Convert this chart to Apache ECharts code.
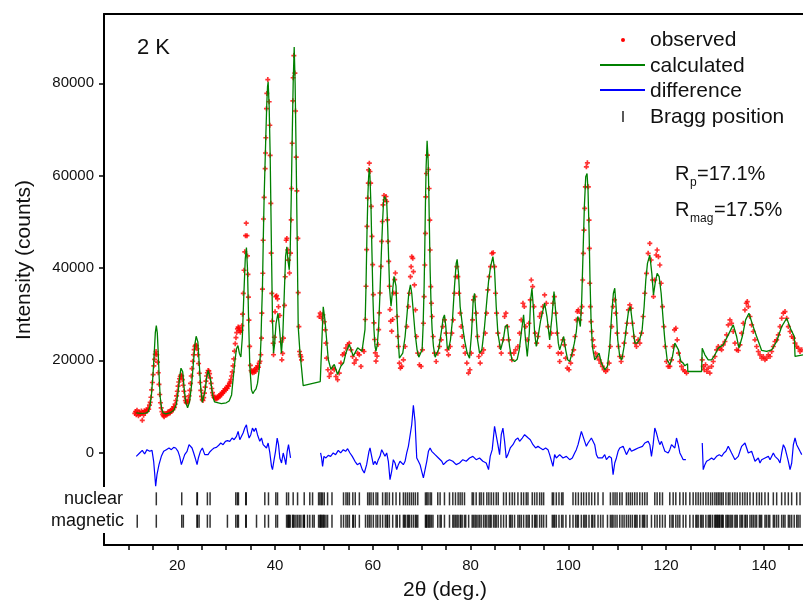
<!DOCTYPE html>
<html><head><meta charset="utf-8">
<script src="https://cdn.jsdelivr.net/npm/echarts@6/dist/echarts.min.js"></script>
<style>html,body{margin:0;padding:0;background:#fff}#c{width:803px;height:601px}</style>
</head><body><div id="c"></div>
<script>
// ---------- DATA (2theta in degrees, intensity in counts) ----------
const obsA = [[11.3,8500],[11.45,8900],[11.6,8200],[11.75,9200],[11.9,8600],[12.05,8000],[12.2,8800],[12.35,8300],[12.5,8400],[12.65,9000],[12.83,7000],[12.95,8700],[13.1,8100],[13.25,9100],[13.4,8600],[13.55,8900],[13.7,9300],[13.85,9000],[14.0,9600],[14.15,9400],[14.3,10300],[14.45,10900],[14.6,12000],[14.75,13600],[14.9,15200],[15.05,16900],[15.2,18800],[15.35,20200],[15.5,21300],[15.65,21900],[15.8,21200],[15.95,19600],[16.1,17300],[16.25,14800],[16.4,12600],[16.55,10800],[16.7,9700],[16.85,8900],[17.0,8300],[17.15,8000],[17.3,7800],[17.45,8400],[17.6,8100],[17.75,8500],[17.9,8200],[18.05,8800],[18.2,8400],[18.35,8900],[18.5,8600],[18.65,9200],[18.8,8900],[18.95,9500],[19.1,9300],[19.25,9900],[19.4,9800],[19.55,10500],[19.7,11300],[19.85,12300],[20.0,13300],[20.15,14400],[20.3,15300],[20.45,16000],[20.6,16500],[20.75,16800],[20.9,16600],[21.05,15800],[21.2,14600],[21.35,13300],[21.5,12100],[21.65,11300],[21.8,10900],[21.95,10700],[22.1,11000],[22.25,11500],[22.4,12300],[22.55,13500],[22.7,15000],[22.85,16600],[23.0,18200],[23.15,19800],[23.3,21200],[23.45,22300],[23.6,23000],[23.75,23300],[23.9,23200],[24.05,22500],[24.2,21200],[24.35,19300],[24.5,17200],[24.65,15200],[24.8,13500],[24.95,12200],[25.1,11500],[25.25,11300],[25.4,11900],[25.55,12900],[25.7,14200],[25.85,15500],[26.0,16600],[26.15,17300],[26.3,17800],[26.45,17700],[26.6,17100],[26.75,16200],[26.9,15000],[27.05,13900],[27.2,13000],[27.35,12400],[27.5,12000],[27.65,11800],[27.8,11600],[27.95,11900],[28.1,11700],[28.25,12100],[28.4,11900],[28.55,12400],[28.7,12200],[28.85,12700],[29.0,12500],[29.15,13000],[29.3,12900],[29.45,13400],[29.6,13200],[29.75,13800],[29.9,13600],[30.05,14100],[30.2,13900],[30.35,14500],[30.5,14400],[30.65,15000],[30.8,15300],[30.95,15800],[31.1,16600],[31.25,17500],[31.4,18800],[31.55,20300],[31.7,22000],[31.85,23600],[32.0,24900],[32.15,26000],[32.3,26800],[32.45,27200],[32.6,27000],[32.75,26400],[32.9,26100],[33.05,26500],[33.2,27500],[33.35,30000],[33.5,34500],[33.65,39500],[33.8,43500],[33.95,47000],[34.1,49700],[34.25,47000],[34.35,42600],[34.45,38600],[34.55,33700],[34.65,28700],[34.8,23000],[34.95,18900],[35.1,17800],[35.25,17500],[35.4,17300],[35.55,17800],[35.7,17400],[35.85,18000],[36.0,17600],[36.15,18400],[36.3,18100],[36.45,18800],[36.6,18500],[36.75,19400],[36.9,19800],[37.08,21200],[37.22,24800],[37.29,30200],[37.42,35400],[37.49,38850],[37.56,46000],[37.63,50600],[37.76,55300],[37.97,61500],[38.04,64900],[38.11,68200],[38.24,74500],[38.31,77800],[38.51,80800],[38.79,76000],[38.92,70900],[38.99,64400],[39.13,54000],[39.2,43200],[39.33,34500],[39.4,28500],[39.61,23700],[39.68,21200],[39.85,25000],[40.0,30500],[40.15,33800],[40.3,34000],[40.5,33300],[40.7,31600],[40.97,29700],[41.25,24000],[41.38,20100],[41.55,21500],[41.72,24800],[41.93,31900],[42.07,38100],[42.27,46000],[42.41,46400],[42.61,43900],[42.75,41700],[42.95,38900],[43.16,43200],[43.3,50400],[43.36,57200],[43.5,67000],[43.64,76200],[43.7,81200],[43.84,86000],[44.05,82200],[44.18,74000],[44.32,64000],[44.46,56700],[44.66,46400],[44.73,34650],[44.87,27300],[45.0,21900],[45.15,21200],[45.28,20800],[45.41,20100]];
const obsB = [[49.03,29470],[49.24,30200],[49.51,29100],[49.78,29830],[50.06,28350],[50.26,26600],[50.4,23710],[50.54,20470],[50.81,17950],[51.08,16500],[51.42,17230],[51.77,18310],[52.11,17950],[52.45,16500],[52.79,15780],[53.13,17230],[53.47,19390],[53.81,21190],[54.16,21550],[54.5,22630],[54.84,23350],[55.18,23710],[55.52,22270],[55.86,20830],[56.2,19390],[56.55,20110],[56.89,21550],[57.23,21190],[57.57,18670],[57.91,22270],[58.19,21900],[58.46,28830],[58.6,36040],[58.73,43960],[58.8,49000],[58.94,55130],[59.07,58370],[59.14,61250],[59.28,62690],[59.41,60890],[59.55,58370],[59.69,53330],[59.82,46840],[59.96,40720],[60.1,34230],[60.23,28110],[60.37,24500],[60.51,21620],[60.64,19820],[60.85,20900],[61.05,23420],[61.19,26660],[61.33,30260],[61.46,34580],[61.67,40340],[61.8,45750],[61.94,50070],[62.08,53670],[62.28,55690],[62.49,54750],[62.69,55470],[62.83,54390],[62.97,50430],[63.1,45750],[63.24,41420],[63.38,36040],[63.51,30990],[63.65,28470],[63.85,26310],[64.06,28830],[64.26,34580],[64.47,37460],[64.61,38900],[64.75,34520],[64.96,29480],[65.09,25150],[65.23,22990],[65.43,19390],[65.64,18310],[65.91,18670],[66.25,20110],[66.6,22990],[66.94,27310],[67.28,31640],[67.48,34520],[67.69,38120],[67.83,40280],[67.96,42440],[68.17,42080],[68.3,39200],[68.51,36320],[68.71,30920],[68.92,25150],[69.19,21550],[69.53,19030],[69.87,18670],[70.15,22270],[70.35,28030],[70.49,33800],[70.63,40640],[70.76,47490],[70.83,55410],[70.97,60450],[71.17,64420],[71.38,61320],[71.51,57210],[71.65,50370],[71.72,43880],[71.85,35960],[71.99,32360],[72.13,29480],[72.33,25150],[72.61,21550],[72.95,19750],[73.29,21550],[73.63,22990],[73.97,24430],[74.31,27310],[74.65,28750],[74.98,25870],[75.2,22270],[75.47,21190],[75.82,22990],[76.16,25870],[76.43,28750],[76.7,34520],[76.98,38120],[77.18,40280],[77.39,38120],[77.59,34520],[77.86,30200],[78.07,27310],[78.27,25150],[78.55,22990],[78.89,21550],[79.23,19390],[79.57,17230],[79.85,17950],[80.12,21550],[80.39,28750],[80.6,33080],[80.87,33800],[81.14,30200],[81.42,25150],[81.69,20830],[81.96,19390],[82.3,21550],[82.65,22270],[82.99,25870],[83.26,30200],[83.53,35240],[83.81,38120],[84.08,40280],[84.35,43160],[84.63,43300],[84.9,40280],[85.1,34520],[85.31,30200],[85.58,25870],[85.92,22990],[86.27,21550],[86.61,24430],[86.95,29480],[87.22,30200],[87.5,27310],[87.77,24430],[88.11,21550],[88.45,20110],[88.86,21550],[89.2,22270],[89.68,22990],[90.02,25870],[90.36,28750],[90.71,32360],[90.98,31640],[91.25,27310],[91.59,24430],[91.93,28030],[92.21,33080],[92.41,37400],[92.69,35960],[92.96,31640],[93.23,25870],[93.51,23710],[93.78,25150]];
const obsC = [[94.12,29480],[94.46,30200],[94.8,31640],[95.14,34160],[95.49,32360],[95.83,27310],[96.17,22990],[96.51,25870],[96.85,32360],[97.13,33800],[97.4,30200],[97.67,25870],[97.94,21550],[98.22,19750],[98.56,21550],[98.9,24430],[99.17,23350],[99.45,20470],[99.79,18310],[100.13,17950],[100.47,19390],[100.81,21190],[101.09,22270],[101.36,25150],[101.63,28750],[101.84,30560],[102.04,30920],[102.32,28750],[102.59,30200],[102.79,31640],[102.93,37400],[103.07,43160],[103.2,48210],[103.34,52890],[103.48,57570],[103.68,61900],[103.89,62760],[104.09,57570],[104.23,50370],[104.3,44240],[104.37,36680],[104.5,31640],[104.64,28390],[104.77,26230],[105.05,24430],[105.25,22990],[105.53,21550],[105.87,20830],[106.28,20110],[106.62,19390],[106.96,18670],[107.3,17950],[107.64,17590],[107.99,17950],[108.33,19390],[108.6,22990],[108.87,27310],[109.15,31640],[109.42,33080],[109.69,30200],[109.97,25870],[110.24,22990],[110.51,20830],[110.79,19750],[111.06,20830],[111.4,23710],[111.74,25870],[112.01,28030],[112.29,30920],[112.56,32000],[112.83,31280],[113.11,28030],[113.38,25150],[113.65,23710],[113.93,22990],[114.27,24430],[114.61,23710],[114.95,25870],[115.29,29480],[115.63,34520],[115.98,38840],[116.32,43160],[116.66,45320],[116.93,41720],[117.21,37400],[117.41,33800],[117.68,37400],[117.96,42800],[118.16,43880],[118.43,42440],[118.71,40640],[118.98,36680],[119.25,31640],[119.53,27310],[119.8,22990],[120.07,19750],[120.42,18670],[120.76,18670],[121.1,20110],[121.44,22990],[121.71,26590],[121.99,26950],[122.26,24430],[122.53,21550],[122.81,19750],[123.15,18670],[123.49,17950],[123.83,17590],[124.17,17230]];
const obsD = [[127.38,20110],[127.59,18670],[127.79,17950],[128.06,19030],[128.34,17580],[128.61,18310],[128.95,17230],[129.29,18670],[129.64,19750],[129.98,20830],[130.32,22270],[130.66,22990],[131.0,22630],[131.34,22270],[131.68,23350],[132.03,24070],[132.37,25510],[132.71,27670],[133.05,28750],[133.39,28030],[133.73,26230],[134.08,23710],[134.42,22270],[134.76,22130],[135.1,23350],[135.44,25870],[135.78,28030],[136.12,30920],[136.4,32360],[136.6,32720],[136.81,31640],[137.15,29480],[137.49,27670],[137.83,26230],[138.17,24430],[138.51,22990],[138.86,21910],[139.2,21190],[139.54,20470],[139.88,20830],[140.22,20110],[140.56,20470],[140.91,21190],[141.25,20830],[141.59,21910],[141.93,22990],[142.27,24070],[142.61,24430],[142.95,25510],[143.3,27310],[143.64,29110],[143.98,30200],[144.32,30560],[144.66,29110],[145.0,27310],[145.35,26230],[145.69,25150],[146.03,24790],[146.37,23710],[146.71,22990],[147.05,22630],[147.39,21910],[147.74,22270]];

const calculated = [[11.6,8600],[12.5,8500],[13.5,8550],[14.0,8800],[14.4,10000],[14.7,12500],[15.0,16500],[15.3,22000],[15.5,26000],[15.7,27500],[15.9,26000],[16.1,21500],[16.3,16000],[16.5,12000],[16.8,9500],[17.1,8600],[17.6,8400],[18.5,8600],[19.3,9200],[19.8,10500],[20.2,13500],[20.5,16500],[20.75,18300],[20.9,18500],[21.1,17500],[21.4,14000],[21.7,11000],[22.1,9700],[22.5,11000],[22.9,14500],[23.3,19500],[23.6,23500],[23.85,25200],[24.0,25400],[24.2,24000],[24.5,19000],[24.8,14000],[25.1,10900],[25.4,11300],[25.7,13500],[26.0,16300],[26.3,17800],[26.5,17600],[26.8,15800],[27.2,12500],[27.6,11000],[28.0,10700],[29.0,10600],[30.0,10800],[30.6,11200],[31.1,12500],[31.4,15800],[31.8,20000],[32.1,22500],[32.4,23200],[32.7,21500],[33.0,20700],[33.3,25000],[33.6,34000],[33.9,42000],[34.14,44400],[34.35,40000],[34.6,28000],[34.83,18700],[35.17,13600],[35.45,12800],[35.71,13250],[36.1,13800],[36.4,15000],[36.7,17500],[36.95,20500],[37.1,24000],[37.25,30000],[37.42,36000],[37.6,47000],[37.76,55300],[38.1,68300],[38.3,75500],[38.45,79200],[38.58,80300],[38.79,74900],[38.99,64800],[39.13,54000],[39.27,43200],[39.47,28800],[39.68,21550],[39.9,23500],[40.2,28000],[40.6,30200],[40.9,27000],[41.3,21550],[41.6,26000],[41.9,35000],[42.15,42500],[42.4,44600],[42.65,41500],[42.9,39600],[43.1,44000],[43.3,55000],[43.5,68000],[43.7,80000],[43.91,87850],[44.1,80000],[44.3,65000],[44.5,48000],[44.73,27300],[45.1,21550],[45.41,18300],[45.6,17900],[45.75,14500],[49.24,15400],[49.85,31600],[50.19,28830],[50.54,24500],[50.88,20180],[51.42,18020],[52.11,19100],[52.79,16940],[53.47,18740],[54.02,19460],[54.5,21620],[55.18,23420],[56.0,20900],[56.89,22700],[57.78,21980],[58.12,22340],[58.39,26660],[58.6,36040],[58.8,47570],[59.0,56220],[59.14,59820],[59.28,61620],[59.41,59820],[59.62,53330],[59.82,43240],[60.03,33150],[60.23,26660],[60.44,23060],[60.64,21980],[60.92,23420],[61.19,27380],[61.46,34580],[61.74,43240],[62.01,50450],[62.21,54780],[62.42,55500],[62.62,55140],[62.83,54420],[63.03,49010],[63.24,41810],[63.44,35320],[63.72,31720],[64.06,35320],[64.33,38200],[64.54,38560],[64.74,36040],[64.96,29480],[65.23,23710],[65.43,20470],[65.78,20470],[66.12,21550],[66.6,25150],[67.01,30200],[67.35,34520],[67.69,36320],[67.96,34520],[68.3,30200],[68.64,25870],[69.05,22270],[69.4,20690],[69.74,20470],[70.08,22270],[70.28,27310],[70.49,35960],[70.63,44600],[70.76,53970],[70.9,61900],[71.1,67520],[71.31,63340],[71.44,56850],[71.58,48210],[71.72,39560],[71.92,31640],[72.13,26590],[72.4,22990],[72.74,20690],[73.02,20470],[73.43,22270],[73.97,25870],[74.38,29110],[74.65,29840],[74.93,27310],[75.2,22990],[75.47,22270],[75.88,24430],[76.29,28750],[76.7,35960],[77.05,41000],[77.25,41860],[77.52,38840],[77.86,31640],[78.27,28030],[78.75,24430],[79.3,21550],[79.78,20470],[80.19,25870],[80.53,33080],[80.8,34520],[81.08,30200],[81.42,24430],[81.83,21550],[82.3,22270],[82.85,27310],[83.33,33080],[83.67,37040],[84.08,40280],[84.56,42440],[84.9,39560],[85.24,31640],[85.58,25870],[86.13,22270],[86.68,24430],[87.09,27310],[87.5,27670],[87.97,22990],[88.45,20110],[89.0,19750],[89.54,20250],[89.95,22270],[90.36,25870],[90.84,29840],[91.18,25150],[91.59,20830],[92.0,25870],[92.28,33080],[92.55,35600],[92.82,31640],[93.1,25870],[93.44,22990],[93.92,25870],[94.3,28500],[94.67,30200],[95.14,32360],[95.62,29480],[96.17,24430],[96.65,29480],[97.06,34880],[97.54,28750],[97.94,23710],[98.22,22270],[98.63,23710],[99.04,25150],[99.45,22270],[99.86,20110],[100.27,19750],[100.75,21550],[101.22,23710],[101.63,26230],[101.91,29480],[102.18,28750],[102.45,27310],[102.73,33080],[103.0,43160],[103.27,53250],[103.55,59730],[103.82,60450],[104.02,56850],[104.23,48210],[104.43,37400],[104.64,28750],[104.91,22990],[105.39,20110],[105.87,20830],[106.28,21550],[106.76,19390],[107.44,17950],[107.99,18670],[108.46,22990],[108.87,30200],[109.21,34520],[109.49,35600],[109.76,31640],[110.1,24430],[110.51,20830],[110.92,20110],[111.4,22990],[111.88,27310],[112.29,30560],[112.7,31640],[113.11,28030],[113.59,23710],[114.06,23710],[114.61,24570],[115.09,26590],[115.5,31640],[115.84,37400],[116.18,41000],[116.66,42800],[117.07,38840],[117.41,34160],[117.75,36680],[118.16,38840],[118.57,38120],[118.98,34520],[119.39,28750],[119.73,24430],[120.21,20110],[120.76,19030],[121.3,20830],[121.78,23710],[122.12,24070],[122.53,22270],[123.01,19750],[123.49,19390],[123.83,18810],[124.38,19240],[124.44,17580],[127.25,17580],[127.38,22630],[127.93,21190],[128.61,20110],[129.29,20110],[129.98,21190],[130.66,22630],[131.68,23350],[132.71,25510],[133.73,27670],[134.42,25150],[134.9,22630],[135.58,25150],[136.26,28750],[136.94,30200],[137.69,27670],[138.51,25150],[139.54,22130],[140.56,21910],[141.59,22270],[142.61,24070],[143.64,27310],[144.66,29110],[145.55,26590],[146.23,25150],[146.37,20830],[148.0,21190]];

const diffSeg1 = [[11.6,-800],[12.29,-70],[12.83,500],[13.31,-300],[13.79,650],[14.34,290],[14.82,500],[15.16,-1870],[15.36,-4400],[15.57,-7270],[15.84,-4760],[16.25,-2600],[16.73,-800],[17.21,290],[17.75,650],[18.3,1010],[18.78,650],[19.25,1150],[19.66,1010],[20.14,290],[20.48,-800],[20.83,-2600],[21.17,-1520],[21.51,-430],[21.99,290],[22.4,1730],[22.67,2090],[23.01,1010],[23.35,-70],[23.76,-1520],[24.04,-2600],[24.31,-1150],[24.72,290],[25.13,1010],[25.61,-430],[25.95,-70],[26.29,-430],[26.63,140],[27.11,650],[27.52,1010],[28.0,1150],[28.47,1590],[28.88,2090],[29.36,1730],[29.84,2450],[30.25,2590],[30.73,2450],[31.21,3170],[31.62,2810],[32.1,3530],[32.44,4610],[32.78,2810],[33.12,2450],[33.46,4250],[33.8,5330],[34.14,6050],[34.35,4610],[34.69,3170],[35.03,3890],[35.37,5330],[35.71,4610],[36.06,5330],[36.4,3890],[36.87,2450],[37.22,3170],[37.56,1730],[37.9,2090],[38.24,1010],[38.58,2090],[38.93,-70],[39.27,-2960],[39.47,-3680],[39.74,-1870],[40.09,290],[40.43,3170],[40.7,1730],[40.97,-1150],[41.32,-2240],[41.66,-70],[42.0,-1520],[42.2,-2600],[42.48,290],[42.75,1730],[43.02,2090],[43.16,-1150]];
const diffSeg2 = [[49.31,-70],[49.51,-1150],[49.72,-2960],[49.99,-800],[50.4,-1150],[50.88,-580],[51.36,-800],[51.9,-70],[52.38,-430],[52.93,500],[53.41,-70],[53.95,650],[54.43,290],[54.84,860],[55.32,-70],[55.79,-800],[56.34,-1870],[56.82,-2600],[57.37,-2240],[57.84,-3680],[58.25,-4400],[58.73,-2600],[59.21,290],[59.42,1010],[59.76,-800],[60.1,-2600],[60.44,-1870],[60.78,-2600],[61.12,-1520],[61.47,-800],[61.81,650],[62.15,290],[62.49,-800],[62.83,-70],[63.17,-1870],[63.51,-5840],[63.85,-4040],[64.19,-1520],[64.54,-2240],[64.88,-3680],[65.22,-2600],[65.56,-1870],[65.9,-2240],[66.24,-2600],[66.59,-1870],[66.93,-70],[67.27,1370],[67.61,1730],[67.95,6050],[68.29,10250],[68.63,6770],[68.98,-1150],[69.32,-1870],[69.66,-2600],[70.0,-4040],[70.34,-5480],[70.68,-5840],[71.03,-1870],[71.37,290],[71.71,1010],[72.05,290],[72.39,650],[72.73,-430],[73.08,-70],[73.42,-1150],[73.76,-800],[74.1,-1870],[74.44,-2600],[74.79,-2240],[75.12,-1870],[75.68,-1520],[76.36,-1870],[77.05,-2600],[77.73,-2240],[78.41,-1520],[79.1,-1870],[79.78,-1150],[80.46,-800],[81.14,-1520],[81.83,-1150],[82.51,-1870],[83.19,-2240],[83.67,-3680],[84.01,-800],[84.42,650],[84.9,5690],[85.24,6050],[85.58,1730],[85.93,-430],[86.27,3890],[86.61,5330],[86.95,2450],[87.29,-1150],[87.63,-430],[88.11,1010],[88.66,1730],[89.2,2810],[89.68,3170],[90.02,2450],[90.57,3170],[91.05,3890],[91.39,4250],[91.8,3170],[92.21,2810],[92.76,1730],[93.3,1010],[93.78,1370],[94.26,1010],[94.8,650],[95.35,1010],[95.83,650],[96.17,-430],[96.51,-70],[96.85,-2960],[97.19,-430],[97.54,-1150],[98.22,-430],[98.9,-1150],[99.59,-800],[100.27,-1520],[100.81,-1150],[101.29,-70],[101.63,650],[101.98,1730],[102.32,3170],[102.66,4610],[103.0,4970],[103.34,2450],[103.68,1370],[104.02,2090],[104.37,2450],[104.71,3170],[105.05,3530],[105.39,1730],[105.73,-430],[106.07,-1150],[106.42,-800],[106.96,-1150],[107.44,-430],[107.78,-1520],[108.33,-800],[108.81,-1150],[109.15,-4760],[109.49,-2240],[109.83,-1150],[110.17,290],[110.51,1010],[110.86,650],[111.2,1370],[111.54,1010],[111.88,-430],[112.22,-70],[112.56,1010],[112.9,290],[113.25,-70],[113.59,650],[113.93,290],[114.27,1010],[114.61,650],[115.16,1370],[115.64,2090],[115.98,1730],[116.32,2450],[116.66,1730],[117.0,-800],[117.34,1730],[117.68,5330],[118.03,4250],[118.37,2810],[118.71,1730],[119.05,2450],[119.39,1370],[119.74,290],[120.08,650],[120.42,-70],[120.76,650],[121.1,1730],[121.44,2090],[121.78,1010],[122.12,3170],[122.47,1730],[122.81,-70],[123.15,-800],[123.49,-1520],[123.83,-1150],[124.04,-1520]];
const diffSeg3 = [[127.39,2090],[127.59,-3680],[127.93,-2600],[128.27,-1870],[128.82,-1520],[129.3,-1150],[129.77,-1520],[130.32,-800],[130.87,-430],[131.35,-800],[131.82,-70],[132.23,290],[132.71,1370],[133.05,1010],[133.39,-70],[133.73,-430],[134.08,-1520],[134.42,-1870],[134.76,-800],[135.1,290],[135.44,1370],[135.79,1730],[136.13,2090],[136.47,1010],[136.81,-70],[137.15,-430],[137.49,290],[137.84,-800],[138.18,-1870],[138.52,-1520],[138.86,-1150],[139.2,-2240],[139.54,-1520],[139.88,-1870],[140.23,-1150],[140.57,-1520],[140.91,-800],[141.25,-1520],[141.59,-1150],[141.93,-70],[142.27,-800],[142.61,-430],[142.96,-1520],[143.3,-2240],[143.64,-70],[143.98,1730],[144.32,1010],[144.66,-430],[145.0,-1870],[145.35,-3680],[145.69,-2240],[146.03,1730],[146.37,3170],[146.71,1730],[147.05,1010],[147.39,290],[147.74,-430]];

const nuclearPositions = [15.7,20.9,24.04,24.1,26.15,26.7,31.96,32.3,32.5,34.0,34.1,37.9,38.65,40.15,40.5,42.35,42.75,43.7,44.6,45.96,47.1,47.67,48.9,49.17,49.45,49.7,50.06,50.74,51.64,54.0,54.5,54.84,55.2,55.9,56.4,57.24,58.94,59.28,59.63,60.1,60.65,61.0,62.0,62.56,62.9,63.38,64.06,64.75,65.5,66.25,66.66,67.07,67.48,67.89,68.3,68.71,69.19,70.76,71.03,71.3,71.71,71.99,73.28,73.76,74.65,75.68,76.36,76.9,77.45,77.86,78.27,78.75,80.32,80.59,81.14,81.82,82.16,82.64,83.32,83.73,84.21,84.69,85.24,85.65,86.74,87.29,87.97,88.51,88.99,89.68,90.36,90.84,91.38,91.73,92.61,93.09,93.57,94.12,94.53,94.94,96.71,96.98,97.53,98.08,98.62,98.9,100.95,101.49,102.04,102.65,103.13,103.68,104.22,104.77,105.39,106.07,107.09,108.6,109.14,109.55,109.96,110.51,110.99,111.87,112.28,112.69,113.1,113.58,114.06,114.61,115.15,115.63,116.11,117.68,118.16,118.7,119.25,120.75,121.44,121.98,122.8,123.49,124.03,124.85,125.53,126.08,126.56,127.04,127.58,128.13,128.61,129.09,129.5,129.97,130.32,130.66,131.0,131.34,131.68,132.23,132.71,133.05,133.59,134.07,134.55,135.1,135.64,136.12,136.6,137.15,137.83,138.51,139.06,139.54,140.22,140.9,141.93,142.61,143.63,144.32,145.0,145.68,146.71,147.39];
const magneticOnlyPositions = [11.8,21.23,24.45,30.25,36.2,42.6,42.9,43.1,43.57,43.9,44.26,44.94,45.28,45.76,46.0,46.64,48.0,49.3,49.9,50.4,53.5,56.0,58.5,61.5,63.0,65.0,66.45,67.3,68.9,70.9,71.5,72.3,74.0,76.6,77.2,78.0,79.0,79.6,80.9,81.5,83.0,84.0,85.0,86.2,88.2,90.0,92.0,93.3,95.5,97.2,99.5,100.3,101.8,103.4,105.0,106.6,108.0,108.9,111.4,113.8,115.4,117.0,119.8,121.2,122.4,126.3,127.3,128.9,130.1,130.5,130.9,131.5,132.5,133.3,134.3,135.4,136.3,137.5,138.2,139.3,140.5,141.2,142.2,143.0,144.0,145.3,146.2,147.0];
const magneticPositions = nuclearPositions.concat(magneticOnlyPositions);

const xTickValues = [10,15,20,25,30,35,40,45,50,55,60,65,70,75,80,85,90,95,100,105,110,115,120,125,130,135,140,145];
const xTickLabels = [20, 40, 60, 80, 100, 120, 140];
const yTickLabels = [0, 20000, 40000, 60000, 80000];
const braggRowLevels = { nuclear: -10000, magnetic: -14850 };

// ---------- CHART ----------
const FONT = '"Liberation Sans", Arial, Helvetica, sans-serif';
const PLUS = 'path://M2,0L4,0L4,2L6,2L6,4L4,4L4,6L2,6L2,4L0,4L0,2L2,2Z';
const observed = obsA.concat(obsB, obsC, obsD);
const chart = echarts.init(document.getElementById('c'), null, { renderer: 'canvas', width: 803, height: 601 });

const diffStyle = { color: '#0000ff', width: 1.2 };
function diffSeries(d) {
  return { name: 'difference', type: 'line', data: d, showSymbol: false, symbol: 'none',
    lineStyle: diffStyle, itemStyle: { color: '#0000ff' }, z: 3, silent: true };
}

chart.setOption({
  animation: false,
  backgroundColor: '#ffffff',
  grid: { left: 104, right: 0, top: 14, bottom: 56 },
  xAxis: [{
    type: 'value', min: 5, max: 148, interval: 5,
    axisLine: { show: true, onZero: false, lineStyle: { color: '#000', width: 2 } },
    axisTick: { show: true, length: 5, customValues: xTickValues, lineStyle: { color: '#000', width: 1.5 } },
    axisLabel: { margin: 13, fontSize: 15, color: '#111', fontFamily: FONT, customValues: xTickLabels,
      formatter: v => xTickLabels.includes(v) ? String(v) : '' },
    splitLine: { show: false }
  }, {
    type: 'value', position: 'top', min: 5, max: 148,
    axisLine: { show: true, onZero: false, lineStyle: { color: '#000', width: 2 } },
    axisTick: { show: false }, axisLabel: { show: false }, splitLine: { show: false }
  }],
  yAxis: {
    type: 'value', min: -20000, max: 95000, interval: 20000,
    axisLine: { show: true, onZero: false, lineStyle: { color: '#000', width: 2 } },
    axisTick: { show: true, length: 5, customValues: yTickLabels, lineStyle: { color: '#000', width: 1.5 } },
    axisLabel: { margin: 10, fontSize: 15, color: '#111', fontFamily: FONT, customValues: yTickLabels,
      formatter: v => yTickLabels.includes(v) ? String(v) : '' },
    splitLine: { show: false }
  },
  series: [
    { name: 'observed', type: 'scatter', data: observed, symbol: PLUS, symbolSize: 5,
      itemStyle: { color: '#ff0000' }, z: 2, silent: true },
    { name: 'calculated', type: 'line', data: calculated, showSymbol: false, symbol: 'none',
      lineStyle: { color: '#008000', width: 1.3 }, itemStyle: { color: '#008000' }, z: 4, silent: true },
    diffSeries(diffSeg1), diffSeries(diffSeg2), diffSeries(diffSeg3),
    { name: 'nuclear', type: 'scatter', data: nuclearPositions.map(v => [v, braggRowLevels.nuclear]),
      symbol: 'rect', symbolSize: [1.5, 13], itemStyle: { color: '#000' }, z: 2, silent: true },
    { name: 'magnetic', type: 'scatter', data: magneticPositions.map(v => [v, braggRowLevels.magnetic]),
      symbol: 'rect', symbolSize: [1.5, 13], itemStyle: { color: '#000' }, z: 2, silent: true }
  ],
  graphic: [
    { type: 'text', x: 24, y: 260, rotation: Math.PI / 2, z: 50,
      style: { text: 'Intensity (counts)', font: '21px ' + FONT, fill: '#111', align: 'center', verticalAlign: 'middle' } },
    { type: 'text', x: 445, y: 590, z: 50,
      style: { text: '2θ (deg.)', font: '21px ' + FONT, fill: '#111', align: 'center', verticalAlign: 'middle' } },
    { type: 'text', x: 137, y: 48, z: 50,
      style: { text: '2 K', font: '22px ' + FONT, fill: '#111', align: 'left', verticalAlign: 'middle' } },
    // R factors
    { type: 'text', x: 675, y: 174, z: 50, style: { text: 'R', font: '20px ' + FONT, fill: '#111', align: 'left', verticalAlign: 'middle' } },
    { type: 'text', x: 690, y: 183, z: 50, style: { text: 'p', font: '12px ' + FONT, fill: '#111', align: 'left', verticalAlign: 'middle' } },
    { type: 'text', x: 697, y: 174, z: 50, style: { text: '=17.1%', font: '20px ' + FONT, fill: '#111', align: 'left', verticalAlign: 'middle' } },
    { type: 'text', x: 675, y: 210, z: 50, style: { text: 'R', font: '20px ' + FONT, fill: '#111', align: 'left', verticalAlign: 'middle' } },
    { type: 'text', x: 690, y: 219, z: 50, style: { text: 'mag', font: '12px ' + FONT, fill: '#111', align: 'left', verticalAlign: 'middle' } },
    { type: 'text', x: 714, y: 210, z: 50, style: { text: '=17.5%', font: '20px ' + FONT, fill: '#111', align: 'left', verticalAlign: 'middle' } },
    // legend
    { type: 'circle', shape: { cx: 623, cy: 40, r: 2 }, style: { fill: '#ff0000' }, z: 50 },
    { type: 'text', x: 650, y: 40, z: 50, style: { text: 'observed', font: '21px ' + FONT, fill: '#111', verticalAlign: 'middle' } },
    { type: 'line', shape: { x1: 600, y1: 65, x2: 645, y2: 65 }, style: { stroke: '#008000', lineWidth: 2 }, z: 50 },
    { type: 'text', x: 650, y: 66, z: 50, style: { text: 'calculated', font: '21px ' + FONT, fill: '#111', verticalAlign: 'middle' } },
    { type: 'line', shape: { x1: 600, y1: 90, x2: 645, y2: 90 }, style: { stroke: '#0000ff', lineWidth: 2 }, z: 50 },
    { type: 'text', x: 650, y: 91, z: 50, style: { text: 'difference', font: '21px ' + FONT, fill: '#111', verticalAlign: 'middle' } },
    { type: 'line', shape: { x1: 623, y1: 111, x2: 623, y2: 122 }, style: { stroke: '#000', lineWidth: 1.3 }, z: 50 },
    { type: 'text', x: 650, y: 117, z: 50, style: { text: 'Bragg position', font: '21px ' + FONT, fill: '#111', verticalAlign: 'middle' } },
    // Bragg row labels (white box hides the axis line behind)
    { type: 'text', x: 125, y: 499, z: 100, style: { text: 'nuclear', font: '18px ' + FONT, fill: '#111', align: 'right', verticalAlign: 'middle', backgroundColor: '#fff', padding: [3, 2, 3, 2] } },
    { type: 'text', x: 126, y: 521, z: 100, style: { text: 'magnetic', font: '18px ' + FONT, fill: '#111', align: 'right', verticalAlign: 'middle', backgroundColor: '#fff', padding: [3, 2, 3, 2] } }
  ]
});
</script>
</body></html>
